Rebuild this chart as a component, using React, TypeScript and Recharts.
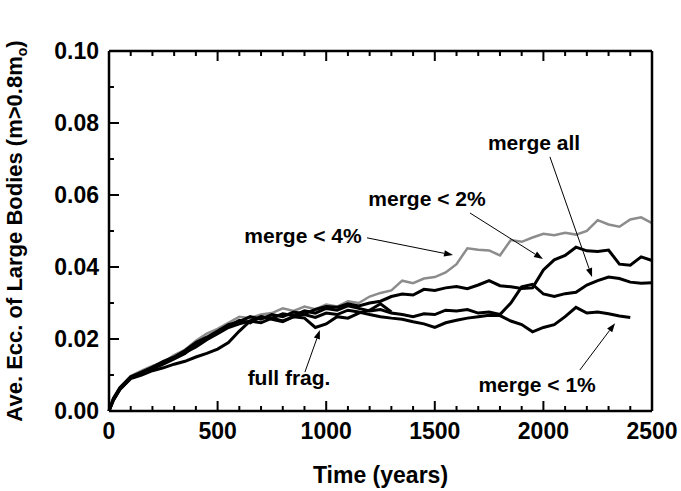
import { LineChart, Line, XAxis, YAxis, ReferenceLine, ReferenceDot } from 'recharts';

const times = [
  0, 20, 50, 100, 150, 200, 250, 300, 350, 400, 450, 500, 550, 600, 650, 700, 750, 800, 850, 900,
  950, 1000, 1050, 1100, 1150, 1200, 1250, 1300, 1350, 1400, 1450, 1500, 1550, 1600, 1650, 1700,
  1750, 1800, 1850, 1900, 1950, 2000, 2050, 2100, 2150, 2200, 2250, 2300, 2350, 2400, 2450, 2500,
];

const merge4 = [
  0, 0.0035, 0.0065, 0.0097, 0.0112,
  0.0125, 0.0135, 0.0155, 0.017, 0.0195, 0.0215, 0.0228,
  0.0245, 0.0262, 0.0258, 0.0268, 0.0272, 0.0285, 0.0278, 0.029, 0.0283, 0.0296,
  0.029, 0.0305, 0.03, 0.0318, 0.0328, 0.0335, 0.0362, 0.0355, 0.0368, 0.0372,
  0.0385, 0.0408, 0.0452, 0.0448, 0.0446, 0.0432, 0.0475, 0.047, 0.0482, 0.0492,
  0.0488, 0.0495, 0.049, 0.05, 0.053, 0.0518, 0.0512, 0.0532, 0.0538, 0.0522,
];

const merge2 = [
  0, 0.0035, 0.0065, 0.0095, 0.0108,
  0.0122, 0.0138, 0.015, 0.0168, 0.019, 0.0205, 0.0222,
  0.024, 0.0248, 0.0262, 0.0255, 0.0268, 0.0262, 0.0275, 0.027, 0.0282, 0.029,
  0.0288, 0.0298, 0.0292, 0.03, 0.0305, 0.0318, 0.0325, 0.0322, 0.0338, 0.0335,
  0.0342, 0.0346, 0.034, 0.035, 0.0362, 0.0348, 0.0345, 0.034, 0.0342, 0.0392,
  0.042, 0.0432, 0.0455, 0.0445, 0.0443, 0.0447, 0.0408, 0.0405, 0.0428, 0.0418,
];

const mergeAll = [
  0, 0.003, 0.006, 0.0092, 0.0105,
  0.012, 0.0135, 0.0148, 0.0162, 0.0178, 0.0198, 0.0215,
  0.0232, 0.0242, 0.025, 0.0262, 0.0258, 0.027, 0.0265, 0.0278, 0.0272, 0.0285,
  0.028, 0.0292, 0.0285, 0.0278, 0.0282, 0.0272, 0.0268, 0.0262, 0.027, 0.0268,
  0.028, 0.0278, 0.0282, 0.0272, 0.0275, 0.0268, 0.03, 0.0345, 0.0352, 0.0325,
  0.0318, 0.0326, 0.033, 0.035, 0.0362, 0.0372, 0.0368, 0.0358, 0.0355, 0.0356,
];

const merge1 = [
  0, 0.003, 0.006, 0.009, 0.01,
  0.0112, 0.012, 0.013, 0.0138, 0.015, 0.016, 0.0172,
  0.019, 0.0222, 0.025, 0.0245, 0.0258, 0.025, 0.0262, 0.0268, 0.026, 0.0272,
  0.0268, 0.028, 0.0275, 0.0268, 0.0262, 0.0258, 0.0255, 0.0248, 0.0242, 0.0232,
  0.0245, 0.0252, 0.0258, 0.0262, 0.0266, 0.0265, 0.025, 0.024, 0.022, 0.0232,
  0.024, 0.0262, 0.0288, 0.0272, 0.0275, 0.027, 0.0264, 0.026, null, null,
];

const fullFrag = [
  0, 0.0032, 0.0062, 0.0094, 0.0104,
  0.0118, 0.013, 0.0145, 0.016, 0.0185, 0.02, 0.0218,
  0.0235, 0.0252, 0.0245, 0.0262, 0.0255, 0.0248, 0.0262, 0.0258, 0.0232, 0.0242,
  0.0262, 0.0258, 0.0272, 0.028, 0.0298, 0.0275, null, null, null, null,
  null, null, null, null, null, null, null, null, null, null,
  null, null, null, null, null, null, null, null, null, null,
];

const xTicks = [
  0, 100, 200, 300, 400, 500, 600, 700, 800, 900, 1000, 1100, 1200, 1300, 1400, 1500, 1600, 1700,
  1800, 1900, 2000, 2100, 2200, 2300, 2400, 2500,
];
const xMajor = [0, 500, 1000, 1500, 2000, 2500];
const yTicks = [0, 0.01, 0.02, 0.03, 0.04, 0.05, 0.06, 0.07, 0.08, 0.09, 0.1];

// annotations (text anchor point + arrow from/to, in data units)
const noteLabels = ['merge < 4%', 'merge < 2%', 'merge all', 'full frag.', 'merge < 1%'];
const noteTime = [893, 1464, 1957, 829, 1971];
const noteEcc = [0.0467, 0.0569, 0.0725, 0.0072, 0.0053];
const arrowFromTime = [1188, 1662, 2030, 902, 2168];
const arrowFromEcc = [0.0481, 0.055, 0.0706, 0.0108, 0.0114];
const arrowToTime = [1584, 1998, 2224, 971, 2330];
const arrowToEcc = [0.0433, 0.0422, 0.0372, 0.0225, 0.0244];

const data = times.map((t, i) => ({
  t,
  merge4: merge4[i],
  merge2: merge2[i],
  mergeAll: mergeAll[i],
  merge1: merge1[i],
  fullFrag: fullFrag[i],
}));

const FONT = '"Liberation Sans", Arial, Helvetica, sans-serif';

const isMajorY = (v: number) => Math.round(v * 100) % 2 === 0;

function BottomTick({ x, y, payload }: any) {
  const major = xMajor.includes(payload.value);
  return (
    <g>
      <line x1={x} x2={x} y1={y} y2={y - (major ? 10 : 5)} stroke="#000" strokeWidth={2} />
      {major && (
        <text x={x} y={y + 28} textAnchor="middle" fontFamily={FONT} fontWeight="bold" fontSize={23} fill="#000">
          {payload.value}
        </text>
      )}
    </g>
  );
}

function TopTick({ x, y, payload }: any) {
  const major = xMajor.includes(payload.value);
  return <line x1={x} x2={x} y1={y} y2={y + (major ? 10 : 5)} stroke="#000" strokeWidth={2} />;
}

function LeftTick({ x, y, payload }: any) {
  const major = isMajorY(payload.value);
  return (
    <g>
      <line x1={x} x2={x + (major ? 10 : 5)} y1={y} y2={y} stroke="#000" strokeWidth={2} />
      {major && (
        <text x={x - 10} y={y + 8} textAnchor="end" fontFamily={FONT} fontWeight="bold" fontSize={23} fill="#000">
          {payload.value.toFixed(2)}
        </text>
      )}
    </g>
  );
}

function RightTick({ x, y, payload }: any) {
  const major = isMajorY(payload.value);
  return <line x1={x} x2={x - (major ? 10 : 5)} y1={y} y2={y} stroke="#000" strokeWidth={2} />;
}

function Arrow({ x1, y1, x2, y2 }: any) {
  const ang = Math.atan2(y2 - y1, x2 - x1);
  const len = 9;
  const w = 3.2;
  const bx = x2 - len * Math.cos(ang);
  const by = y2 - len * Math.sin(ang);
  const px = -Math.sin(ang) * w;
  const py = Math.cos(ang) * w;
  return (
    <g>
      <line x1={x1} y1={y1} x2={bx} y2={by} stroke="#000" strokeWidth={1} />
      <polygon points={`${x2},${y2} ${bx + px},${by + py} ${bx - px},${by - py}`} fill="#000" />
    </g>
  );
}

const axisLine = { stroke: '#000', strokeWidth: 2.5 };

export default function App() {
  return (
    <div style={{ position: 'absolute', left: 0, top: 0, background: '#fff' }}>
      <LineChart width={681} height={491} data={data} margin={{ top: 50, right: 28, bottom: 79, left: 108 }}>
        <XAxis
          xAxisId="bottom"
          dataKey="t"
          type="number"
          domain={[0, 2500]}
          ticks={xTicks}
          interval={0}
          height={1}
          tickSize={0}
          tickMargin={0}
          tickLine={false}
          axisLine={axisLine}
          tick={BottomTick}
          label={{
            content: ({ viewBox }: any) => (
              <text
                x={viewBox.x + viewBox.width / 2}
                y={viewBox.y + 72}
                textAnchor="middle"
                fontFamily={FONT}
                fontWeight="bold"
                fontSize={23}
                fill="#000"
              >
                Time (years)
              </text>
            ),
          }}
        />
        <XAxis
          xAxisId="top"
          orientation="top"
          dataKey="t"
          type="number"
          domain={[0, 2500]}
          ticks={xTicks}
          interval={0}
          height={1}
          tickSize={0}
          tickMargin={0}
          tickLine={false}
          axisLine={axisLine}
          tick={TopTick}
        />
        <YAxis
          yAxisId="left"
          type="number"
          domain={[0, 0.1]}
          ticks={yTicks}
          interval={0}
          width={1}
          tickSize={0}
          tickMargin={0}
          tickLine={false}
          axisLine={axisLine}
          tick={LeftTick}
          label={{
            content: ({ viewBox }: any) => {
              const cx = viewBox.x - 86;
              const cy = viewBox.y + viewBox.height / 2;
              return (
                <text
                  x={cx}
                  y={cy}
                  transform={`rotate(-90 ${cx} ${cy})`}
                  textAnchor="middle"
                  fontFamily={FONT}
                  fontWeight="bold"
                  fontSize={22}
                  fill="#000"
                >
                  Ave. Ecc. of Large Bodies (m&gt;0.8m
                  <tspan dy={5} fontSize={14}>o</tspan>
                  <tspan dy={-5}>)</tspan>
                </text>
              );
            },
          }}
        />
        <YAxis
          yAxisId="right"
          orientation="right"
          type="number"
          domain={[0, 0.1]}
          ticks={yTicks}
          interval={0}
          width={1}
          tickSize={0}
          tickMargin={0}
          tickLine={false}
          axisLine={axisLine}
          tick={RightTick}
        />
        <Line xAxisId="bottom" yAxisId="left" type="linear" dataKey="merge4" stroke="#8c8c8c" strokeWidth={2.5} dot={false} isAnimationActive={false} />
        <Line xAxisId="bottom" yAxisId="left" type="linear" dataKey="fullFrag" stroke="#000" strokeWidth={3} dot={false} isAnimationActive={false} />
        <Line xAxisId="bottom" yAxisId="left" type="linear" dataKey="merge1" stroke="#000" strokeWidth={3} dot={false} isAnimationActive={false} />
        <Line xAxisId="bottom" yAxisId="left" type="linear" dataKey="mergeAll" stroke="#000" strokeWidth={3} dot={false} isAnimationActive={false} />
        <Line xAxisId="bottom" yAxisId="left" type="linear" dataKey="merge2" stroke="#000" strokeWidth={3} dot={false} isAnimationActive={false} />
        {noteLabels.map((label, i) => (
          <ReferenceLine
            key={`arrow-${label}`}
            xAxisId="bottom"
            yAxisId="left"
            segment={[
              { x: arrowFromTime[i], y: arrowFromEcc[i] },
              { x: arrowToTime[i], y: arrowToEcc[i] },
            ]}
            ifOverflow="visible"
            shape={Arrow}
          />
        ))}
        {noteLabels.map((label, i) => (
          <ReferenceDot
            key={`note-${label}`}
            xAxisId="bottom"
            yAxisId="left"
            x={noteTime[i]}
            y={noteEcc[i]}
            r={0}
            ifOverflow="visible"
            shape={({ cx, cy }: any) => (
              <text x={cx} y={cy} textAnchor="middle" fontFamily={FONT} fontWeight="bold" fontSize={21} fill="#000">
                {label}
              </text>
            )}
          />
        ))}
      </LineChart>
    </div>
  );
}
